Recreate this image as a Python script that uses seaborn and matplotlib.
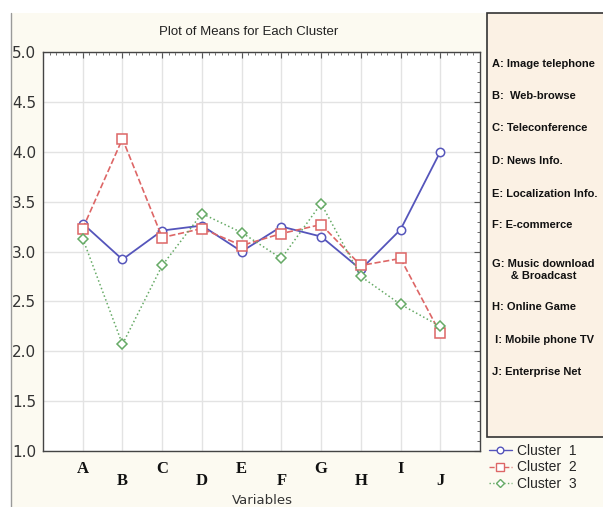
import numpy as np
import pandas as pd
import matplotlib.pyplot as plt
import seaborn as sns
from matplotlib.patches import Rectangle
from matplotlib.lines import Line2D
from matplotlib.ticker import MultipleLocator

# 변수(카테고리)와 군집별 평균
variables = ['A', 'B', 'C', 'D', 'E', 'F', 'G', 'H', 'I', 'J']
cluster1 = [3.28, 2.92, 3.21, 3.26, 3.00, 3.25, 3.15, 2.82, 3.22, 4.00]
cluster2 = [3.23, 4.13, 3.14, 3.23, 3.06, 3.18, 3.27, 2.86, 2.93, 2.18]
cluster3 = [3.13, 2.07, 2.86, 3.38, 3.19, 2.93, 3.48, 2.75, 2.47, 2.25]
cluster_names = ['Cluster  1', 'Cluster  2', 'Cluster  3']
descriptions = ['A: Image telephone', 'B:  Web-browse', 'C: Teleconference',
                'D: News Info.', 'E: Localization Info.', 'F: E-commerce',
                'G: Music download\n      & Broadcast', 'H: Online Game',
                ' I: Mobile phone TV', 'J: Enterprise Net']

df = pd.DataFrame({'var': variables * 3,
                   'mean': cluster1 + cluster2 + cluster3,
                   'cluster': np.repeat(cluster_names, len(variables))})

sns.set_style('white')
plt.rcParams['font.family'] = ['DejaVu Sans']

fig = plt.figure(figsize=(6.03, 5.07), dpi=100)
fig.patch.set_facecolor('white')
# 크림색 배경 + 왼쪽 테두리
fig.patches.append(Rectangle((11 / 603, 0), 1, 1 - 13 / 507, transform=fig.transFigure,
                             facecolor='#fcfaf1', edgecolor='none', zorder=-10))
fig.add_artist(Line2D([11 / 603, 11 / 603], [0, 1 - 13 / 507], transform=fig.transFigure,
                      color='#9a9a9a', lw=1))

ax = fig.add_axes([43 / 603, 1 - 451 / 507, 437 / 603, 399 / 507])
ax.set_facecolor('white')

styles = {
    'Cluster  1': dict(color='#5555bb', marker='o', linestyle='-', lw=1.3, ms=6),
    'Cluster  2': dict(color='#dd6666', marker='s', linestyle='--', lw=1.2, ms=6.5),
    'Cluster  3': dict(color='#66aa66', marker='D', linestyle=':', lw=1.1, ms=5),
}
for name in cluster_names:
    st = styles[name]
    sub = df[df['cluster'] == name]
    sns.lineplot(data=sub, x='var', y='mean', ax=ax, color=st['color'],
                 marker=st['marker'], linestyle=st['linestyle'], lw=st['lw'],
                 ms=st['ms'], mfc='white', mec=st['color'], mew=1.1, label=name,
                 sort=False)

ax.set_xlim(-1, 10)
ax.set_ylim(1.0, 5.0)
ax.yaxis.set_major_locator(MultipleLocator(0.5))
ax.yaxis.set_minor_locator(MultipleLocator(0.1))
ax.xaxis.set_minor_locator(MultipleLocator(1 / 6))
ax.grid(True, which='major', color='#e3e3e3', lw=1)
ax.set_axisbelow(True)
ax.tick_params(axis='both', which='both', direction='in', top=True, right=True,
               color='#555555')
ax.tick_params(which='major', length=4)
ax.tick_params(which='minor', length=2.5)
ax.tick_params(axis='x', labelbottom=False)
ax.tick_params(axis='y', labelsize=11, labelcolor='#333333', pad=5)
for sp in ax.spines.values():
    sp.set_color('#444444')
    sp.set_linewidth(1)
ax.set_xlabel('')
ax.set_ylabel('')

# 엇갈린 x축 라벨 (축 아래 픽셀 위치)
for i, v in enumerate(variables):
    yoff = -18 / 399 if i % 2 == 0 else -30 / 399
    ax.text(i, yoff, v, transform=ax.get_xaxis_transform(), ha='center', va='center',
            fontsize=12, fontweight='bold', family='Liberation Serif', color='#111111')
fig.text(262 / 603, 1 - 500 / 507, 'Variables', ha='center', va='center',
         fontsize=9.5, color='#333333')
fig.text(249 / 603, 1 - 32 / 507, 'Plot of Means for Each Cluster', ha='center',
         va='center', fontsize=9.5, color='#222222', family='Liberation Sans')

# 오른쪽 설명 박스
fig.patches.append(Rectangle((487 / 603, 1 - 437 / 507), 0.3, 424 / 507,
                             transform=fig.transFigure, facecolor='#fbf1e4',
                             edgecolor='#333333', lw=1.2, zorder=1))
desc_y = [64, 96, 128, 161, 194, 225, 259, 307, 340, 372]
for txt, yy in zip(descriptions, desc_y):
    fig.text(492 / 603, 1 - yy / 507, txt, ha='left',
             va='top' if '\n' in txt else 'center', fontsize=8, fontweight='bold',
             zorder=2, family='Liberation Sans', color='#111111', linespacing=1.25)

# 군집 범례
ax.legend_.remove()
handles = [Line2D([], [], color=styles[n]['color'], marker=styles[n]['marker'],
                  linestyle=styles[n]['linestyle'], lw=1, ms=styles[n]['ms'] * 0.8,
                  mfc='white', mec=styles[n]['color']) for n in cluster_names]
fig.legend(handles, cluster_names, loc='upper left', bbox_to_anchor=(481 / 603, 1 - 436 / 507),
           frameon=False, fontsize=10, handlelength=1.6, handletextpad=0.4,
           labelspacing=0.15, borderpad=0.1, prop={'family': 'Liberation Sans', 'size': 10})

fig.savefig('out.png', dpi=100, facecolor=fig.get_facecolor())
